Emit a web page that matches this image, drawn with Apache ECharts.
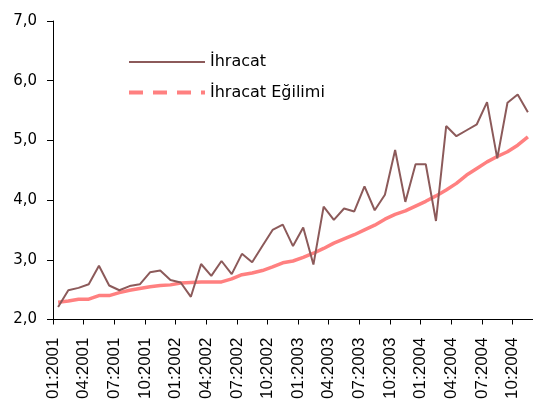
<!DOCTYPE html>
<html>
<head>
<meta charset="utf-8">
<script src="https://cdn.jsdelivr.net/npm/echarts@6/dist/echarts.min.js"></script>
<style>
  html, body { margin: 0; padding: 0; background: #fff; }
  #chart { width: 533px; height: 408px; }
</style>
</head>
<body>
<div id="chart"></div>
<script>
  // aylar 01:2001 - 11:2004
  const months = []
  for (let y = 2001; y <= 2004; y++) {
    for (let m = 1; m <= 12; m++) {
      if (y === 2004 && m === 12) break
      months.push((m < 10 ? '0' + m : '' + m) + ':' + y)
    }
  }
  // etiket ekseni: çizgiler ay sınırlarında, bir fazla
  const tickMonths = months.concat(['12:2004'])

  const ihracat = [
    2.21, 2.49, 2.53, 2.59, 2.90, 2.57, 2.49, 2.56, 2.59, 2.79, 2.82, 2.66,
    2.62, 2.38, 2.93, 2.73, 2.98, 2.76, 3.10, 2.96, 3.23, 3.50, 3.59, 3.23,
    3.54, 2.92, 3.89, 3.67, 3.86, 3.81, 4.23, 3.83, 4.09, 4.84, 3.97, 4.60,
    4.60, 3.65, 5.24, 5.07, 5.17, 5.27, 5.64, 4.70, 5.63, 5.77, 5.47
  ]

  const egilim = [
    2.29, 2.31, 2.34, 2.34, 2.40, 2.40, 2.45, 2.49, 2.52, 2.55, 2.57, 2.58,
    2.61, 2.62, 2.63, 2.63, 2.63, 2.68, 2.75, 2.78, 2.82, 2.88, 2.95, 2.98,
    3.04, 3.11, 3.19, 3.28, 3.35, 3.42, 3.50, 3.58, 3.68, 3.76, 3.82, 3.90,
    3.98, 4.07, 4.17, 4.28, 4.42, 4.53, 4.64, 4.73, 4.81, 4.92, 5.06
  ]

  const yTicks = [2, 3, 4, 5, 6, 7]

  const brown = '#8c5a5a'
  const pink = '#ff8080'

  const myChart = echarts.init(document.getElementById('chart'), null, { renderer: 'canvas' })

  const option = {
    animation: false,
    backgroundColor: '#fff',
    grid: {
      left: 53,
      top: 21,
      width: 486,
      height: 298.5,
      containLabel: false
    },
    legend: {
      orient: 'vertical',
      left: 127,
      top: 54,
      padding: 0,
      itemWidth: 76,
      itemHeight: 14,
      itemGap: 14.5,
      textStyle: {
        fontFamily: 'DejaVu Sans',
        fontSize: 16,
        color: '#000'
      },
      data: [
        {
          name: 'İhracat',
          itemStyle: { opacity: 0 },
          lineStyle: { color: brown, width: 2, type: 'solid' }
        },
        {
          name: 'İhracat Eğilimi',
          itemStyle: { opacity: 0 },
          lineStyle: { color: pink, width: 4, type: [14, 10] }
        }
      ]
    },
    xAxis: [
      {
        type: 'category',
        data: months,
        boundaryGap: true,
        axisLine: { lineStyle: { color: '#000', width: 1 } },
        axisTick: { show: false },
        axisLabel: { show: false },
        splitLine: { show: false }
      },
      {
        type: 'category',
        data: tickMonths,
        boundaryGap: false,
        position: 'bottom',
        axisLine: { show: false },
        axisTick: { interval: 2, length: 5, lineStyle: { color: '#000' } },
        axisLabel: {
          interval: 2,
          rotate: 90,
          margin: 18,
          fontFamily: 'Liberation Sans',
          fontSize: 17,
          color: '#000',
          padding: [0, 0, 6, 0]
        },
        splitLine: { show: false }
      }
    ],
    yAxis: {
      type: 'value',
      min: yTicks[0],
      max: yTicks[yTicks.length - 1],
      interval: 1,
      axisLine: { show: true, lineStyle: { color: '#000', width: 1 } },
      axisTick: { show: true, length: 6, lineStyle: { color: '#000' } },
      axisLabel: {
        margin: 16,
        fontFamily: 'DejaVu Sans',
        fontSize: 15,
        color: '#000',
        padding: [0, 0, 8, 0],
        formatter: (v) => v.toFixed(1).replace('.', ',')
      },
      splitLine: { show: false }
    },
    series: [
      {
        name: 'İhracat',
        type: 'line',
        xAxisIndex: 0,
        data: ihracat,
        symbol: 'none',
        lineStyle: { color: brown, width: 2 },
        itemStyle: { color: brown },
        z: 3
      },
      {
        name: 'İhracat Eğilimi',
        type: 'line',
        xAxisIndex: 0,
        data: egilim,
        symbol: 'none',
        // grafikte kısa parçalar yüzünden düz görünüyor
        lineStyle: { color: pink, width: 3.5 },
        itemStyle: { color: pink },
        z: 2
      }
    ]
  }

  myChart.setOption(option)
</script>
</body>
</html>
